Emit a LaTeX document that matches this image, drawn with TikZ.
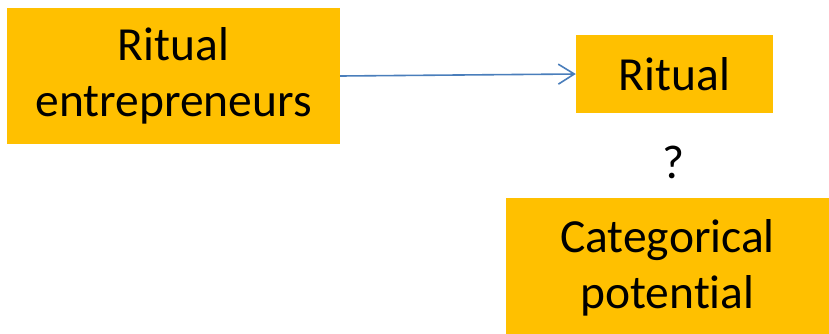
\documentclass[tikz,border=0pt]{standalone}
\usepackage{fontspec}
\setmainfont{Carlito}[Ligatures={NoCommon}]
\usetikzlibrary{arrows.meta, positioning}

\definecolor{boxorange}{HTML}{FFC000}
\definecolor{linkblue}{HTML}{4A7EBB}

\tikzset{
    orangebox/.style={fill=boxorange, inner sep=0pt, align=center,
        font=\fontsize{47.5}{56}\selectfont},
    link/.style={draw=linkblue, line width=1.6pt,
        -{Straight Barb[length=16pt, width=20pt, line width=1.6pt]}}
}

\begin{document}
\begin{tikzpicture}[x=1pt, y=-1pt]
    \useasboundingbox (0,0) rectangle (829,333);
    % Actors
    \node[orangebox, minimum width=333pt, minimum height=136pt] (entre) at (173.5,76) {Ritual\\entrepreneurs};
    \node[orangebox, minimum width=197pt, minimum height=78pt] (ritual) at (674.5,74) {Ritual};
    % Open question
    \node[font=\fontsize{47.5}{56}\selectfont] (quest) at (673,162) {?};
    \node[orangebox, minimum width=323pt, minimum height=140pt] (categ) at (667.5,268) {Categorical\\potential};
    % Link
    \draw[link] (entre.east) -- (ritual.west);
\end{tikzpicture}
\end{document}
